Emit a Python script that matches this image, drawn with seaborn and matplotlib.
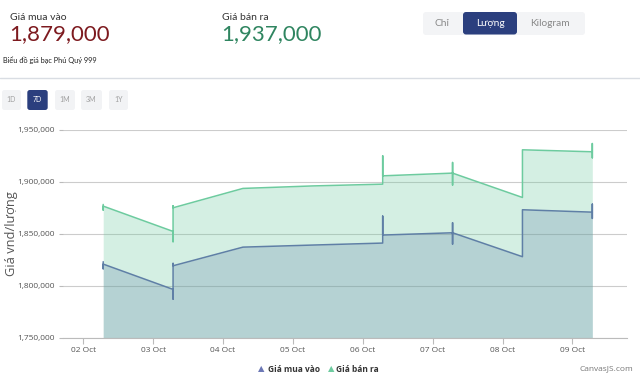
import numpy as np
import pandas as pd
import matplotlib
matplotlib.use("Agg")
import matplotlib.pyplot as plt
import seaborn as sns
from matplotlib.patches import FancyBboxPatch
from matplotlib.lines import Line2D
from matplotlib.ticker import FuncFormatter

# --- data (7D view, price per luong) ---
day_labels = ["02 Oct", "03 Oct", "04 Oct", "05 Oct", "06 Oct", "07 Oct", "08 Oct", "09 Oct"]
read_offset = 0.285  # readings are taken around 06:50 each day

buy_day = [0, 0, 0, 1, 1, 1, 1, 2, 3, 4, 4, 4, 5, 5, 5, 5, 6, 6, 7, 7, 7, 7]
buy_price = [1823000, 1816200, 1820700,
             1796400, 1787100, 1821400, 1819100,
             1837000, 1839000,
             1840900, 1866800, 1848600,
             1850800, 1860400, 1839900, 1850800,
             1827800, 1872900,
             1870600, 1878300, 1864600, 1870600]

sell_day = [0, 0, 0, 1, 1, 1, 1, 2, 3, 4, 4, 4, 5, 5, 5, 5, 6, 6, 7, 7, 7, 7]
sell_price = [1878000, 1872600, 1876400,
              1852100, 1842200, 1876700, 1874800,
              1893400, 1895800,
              1897500, 1924700, 1905500,
              1908100, 1918300, 1896600, 1908100,
              1884700, 1930500,
              1928600, 1936500, 1922800, 1928600]

y_ticks = [1750000, 1800000, 1850000, 1900000, 1950000]
latest_buy = "1,879,000"
latest_sell = "1,937,000"

buy_color = "#5f7fa6"
sell_color = "#6dcb9f"

buy = pd.DataFrame({"t": np.array(buy_day) + read_offset, "price": buy_price})
sell = pd.DataFrame({"t": np.array(sell_day) + read_offset, "price": sell_price})

sns.set_style("white")
plt.rcParams["font.family"] = ["Open Sans", "DejaVu Sans"]

W, H = 640, 382
fig = plt.figure(figsize=(W / 100, H / 100), dpi=100)
ax = fig.add_axes([63.3 / W, 1 - 337.7 / H, (626.7 - 63.3) / W, (337.7 - 129.5) / H])

base = y_ticks[0]
ax.fill_between(sell["t"], sell["price"], base, color=sell_color, alpha=0.29, lw=0, zorder=1)
ax.fill_between(buy["t"], buy["price"], base, color=buy_color, alpha=0.26, lw=0, zorder=2)
sns.lineplot(data=sell, x="t", y="price", sort=False, estimator=None, color=sell_color, lw=1.1, ax=ax, zorder=3)
sns.lineplot(data=buy, x="t", y="price", sort=False, estimator=None, color=buy_color, lw=1.1, ax=ax, zorder=4)

ax.set_xlim(-0.286, 7.777)
ax.set_ylim(y_ticks[0], y_ticks[-1])
ax.set_xticks(range(len(day_labels)))
ax.set_xticklabels(day_labels)
ax.set_yticks(y_ticks)
ax.yaxis.set_major_formatter(FuncFormatter(lambda v, p: f"{int(v):,}"))
ax.set_xlabel("")
ax.set_ylabel("Giá vnd/lượng", fontsize=9.3, color="#555555")
ax.yaxis.set_label_coords((18 - 63.3) / (626.7 - 63.3), 0.5)
ax.grid(axis="y", color="#cccccc", lw=0.8, zorder=0)
ax.set_axisbelow(True)
for s in ["top", "right", "left"]:
    ax.spines[s].set_visible(False)
ax.spines["bottom"].set_color("#bbbbbb")
ax.spines["bottom"].set_linewidth(0.8)
ax.tick_params(axis="x", length=4, width=0.8, color="#bbbbbb", labelsize=6, labelcolor="#555555", pad=3)
ax.tick_params(axis="y", length=3, width=0.8, color="#bbbbbb", labelsize=6, labelcolor="#555555", pad=3)
ax.yaxis.set_tick_params(left=True)
ax.xaxis.set_tick_params(bottom=True)


def fx(x):
    return x / W


def fy(y):
    return 1 - y / H


def box(x0, y0, x1, y1, color, r=3):
    p = FancyBboxPatch((x0, H - y1), x1 - x0, y1 - y0, boxstyle=f"round,pad=0,rounding_size={r}",
                       transform=None, fc=color, ec="none")
    fig.add_artist(p)


hdr = ["Lato", "DejaVu Sans"]
fig.text(fx(10), fy(17), "Giá mua vào", fontsize=7.5, color="#333333", family=hdr, va="center")
fig.text(fx(9), fy(34), latest_buy, fontsize=16, color="#7d1a1f", family=hdr, va="center")
fig.text(fx(222), fy(17), "Giá bán ra", fontsize=7.5, color="#333333", family=hdr, va="center")
fig.text(fx(221), fy(34), latest_sell, fontsize=16, color="#2f8560", family=hdr, va="center")
fig.text(fx(3), fy(60), "Biểu đồ giá bạc Phú Quý 999", fontsize=5.3, color="#222222", family=hdr, va="center")
fig.add_artist(Line2D([0, 1], [fy(78), fy(78)], transform=fig.transFigure, color="#d9dde3", lw=1))

# unit switch
box(423, 12, 585, 35, "#f3f4f6", r=3)
box(463, 12, 517, 34.5, "#2b3f7e", r=3)
for cx, lab, col in [(442, "Chỉ", "#888888"), (490, "Lượng", "white"), (550, "Kilogram", "#888888")]:
    fig.text(fx(cx), fy(23.5), lab, fontsize=7.3, color=col, family=hdr, ha="center", va="center")

# range buttons
for (x0, x1), lab in zip([(2, 21), (27.3, 47.7), (55, 75), (81, 102), (109, 128)], ["1D", "7D", "1M", "3M", "1Y"]):
    sel = lab == "7D"
    box(x0, 90, x1, 110, "#2b3f7e" if sel else "#f2f3f5", r=2.5)
    fig.text(fx((x0 + x1) / 2), fy(100), lab, fontsize=5, color="white" if sel else "#a0a0a0",
             family=hdr, ha="center", va="center")

# legend
fig.text(fx(258), fy(369), "▲", fontsize=6, color="#6b77b5", family=["DejaVu Sans"], va="center")
fig.text(fx(268.5), fy(369), "Giá mua vào", fontsize=6, color="#333333", weight="bold", va="center")
fig.text(fx(327.5), fy(369), "▲", fontsize=6, color=sell_color, family=["DejaVu Sans"], va="center")
fig.text(fx(336.5), fy(369), "Giá bán ra", fontsize=6, color="#333333", weight="bold", va="center")
fig.text(fx(633), fy(369), "CanvasJS.com", fontsize=6, color="#777777", ha="right", va="center")

fig.savefig("out.png", dpi=100)
